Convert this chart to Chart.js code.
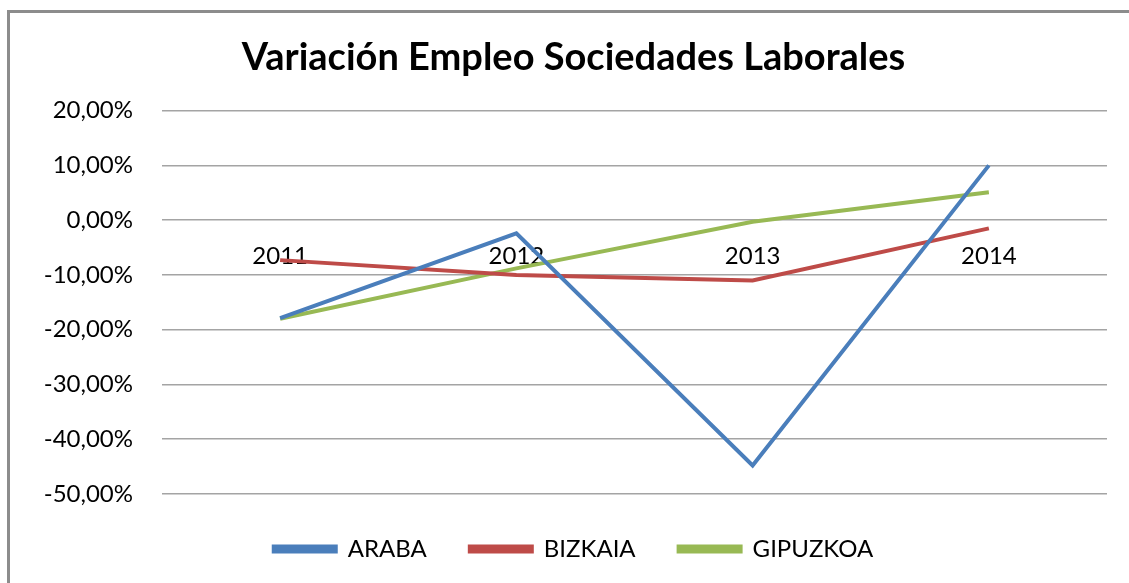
<!DOCTYPE html>
<html>
<head>
<meta charset="utf-8">
<script src="https://cdn.jsdelivr.net/npm/chart.js@4/dist/chart.umd.min.js"></script>
<style>
  html, body { margin: 0; padding: 0; background: #fff; }
  #wrap { width: 1129px; height: 583px; position: relative; }
</style>
</head>
<body>
<div id="wrap"><canvas id="empleoChart" width="1129" height="583"></canvas></div>
<script>
/* ---------- DATA ---------- */
const years    = ['2011', '2012', '2013', '2014'];
const araba    = [-17.9, -2.4, -44.8, 10.0];
const bizkaia  = [-7.3, -10.0, -11.0, -1.5];
const gipuzkoa = [-18.0, -8.8, -0.3, 5.1];
const yTicks   = { min: -50, max: 20, step: 10 };

const FONT = 'Lato, "Open Sans", sans-serif';

/* ---- frame + white background ---- */
const framePlugin = {
    id: 'frame',
    beforeDraw(chart) {
        const c = chart.ctx;
        c.save();
        c.fillStyle = '#fff';
        c.fillRect(0, 0, chart.width, chart.height);
        c.strokeStyle = '#8c8c8c';
        c.lineWidth = 3;
        c.beginPath();
        c.moveTo(8.5, chart.height);
        c.lineTo(8.5, 11.5);
        c.lineTo(chart.width, 11.5);
        c.stroke();
        c.restore();
    }
};

function pct(v) {
    return v.toFixed(2).replace('.', ',') + '%';
}

new Chart(document.getElementById('empleoChart'), {
    type: 'line',
    data: {
        labels: years,
        datasets: [
            { label: 'ARABA',    data: araba,    borderColor: '#4a7ebb', backgroundColor: '#4a7ebb' },
            { label: 'BIZKAIA',  data: bizkaia,  borderColor: '#be4b48', backgroundColor: '#be4b48' },
            { label: 'GIPUZKOA', data: gipuzkoa, borderColor: '#98b954', backgroundColor: '#98b954' },
        ].map(d => Object.assign(d, { borderWidth: 4, pointRadius: 0, tension: 0, fill: false }))
    },
    options: {
        responsive: false,
        animation: false,
        layout: { padding: { top: 0, left: 40, right: 22, bottom: 12 } },
        plugins: {
            title: {
                display: true,
                text: 'Variación Empleo Sociedades Laborales',
                color: '#000',
                font: { family: FONT, size: 38, weight: 'bold', lineHeight: 1.2 },
                padding: { top: 35, bottom: 30 }
            },
            legend: {
                position: 'bottom',
                labels: {
                    color: '#000',
                    font: { family: FONT, size: 24 },
                    boxWidth: 62,
                    boxHeight: 5,
                    padding: 43
                }
            },
            tooltip: { enabled: false }
        },
        scales: {
            x: {
                position: { y: 0 },
                offset: true,
                grid: { display: false },
                border: { display: false },
                ticks: { color: '#000', padding: 14, font: { family: FONT, size: 24 } }
            },
            y: {
                min: yTicks.min,
                max: yTicks.max,
                afterFit: s => { s.width = 122; },
                grid: { color: '#a4a4a4', lineWidth: 1.5, drawTicks: false },
                border: { display: false },
                ticks: {
                    stepSize: yTicks.step,
                    padding: 29,
                    color: '#000',
                    font: { family: FONT, size: 24 },
                    callback: v => pct(v)
                }
            }
        }
    },
    plugins: [framePlugin]
});
</script>
</body>
</html>
